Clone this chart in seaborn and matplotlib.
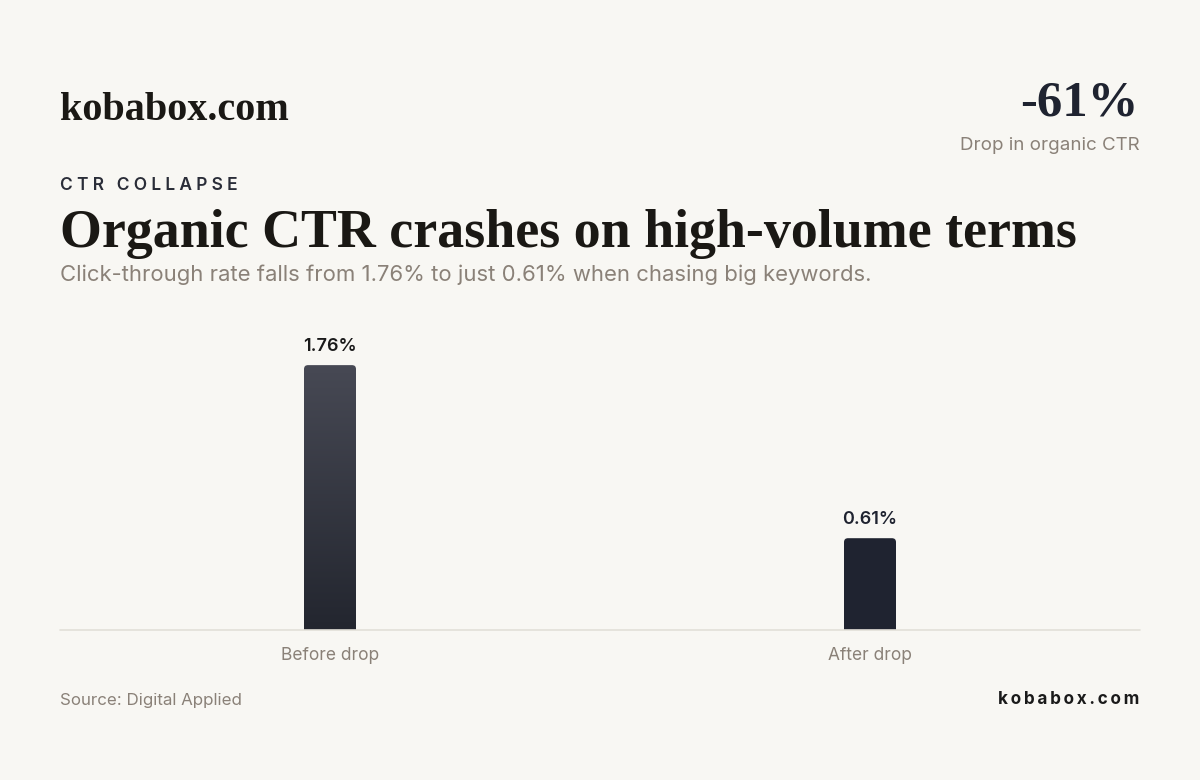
import numpy as np
import matplotlib
matplotlib.use("Agg")
import matplotlib.pyplot as plt
import seaborn as sns
from matplotlib.patches import FancyBboxPatch

# data
categories = ["Before drop", "After drop"]
values = [1.76, 0.61]
value_labels = ["1.76%", "0.61%"]
change_label = "-61%"

BG = "#f8f7f3"
INK = "#1f2330"
MUTED = "#8a8178"
SERIF = ["Liberation Serif", "DejaVu Serif"]
SANS = ["Inter", "DejaVu Sans"]

sns.set_theme(style="white")
plt.rcParams["font.family"] = SANS

fig = plt.figure(figsize=(12, 7.8), dpi=100, facecolor=BG)
W, H = 1200, 780

def fx(px):
    return px / W

def fy(py):
    return 1 - py / H

def spaced(s, gap="\u2009"):
    return gap.join(s).replace(gap + " " + gap, gap * 3)

# plot area: x 60..1140, y 329..630 px
ax = fig.add_axes([fx(60), fy(630), fx(1080), (630 - 329) / H])
ax.set_facecolor(BG)
sns.barplot(x=categories, y=values, ax=ax, width=0.0963, color=INK)
ax.set_xlim(-0.5, 1.5)
ax.set_ylim(0, 2.0)
for s in ax.spines.values():
    s.set_visible(False)
ax.set_yticks([])
ax.set_xticks([])
ax.axhline(0, color="#e2dfd8", lw=1.2, zorder=5, clip_on=False)

# aspect for rounded corners (data units per pixel)
xu = 2.0 / 1080
yu = 2.0 / 301
rad = 4 * xu
for i, p in enumerate(list(ax.patches)):
    x0, w, h = p.get_x(), p.get_width(), p.get_height()
    p.set_visible(False)
    box = FancyBboxPatch((x0, -0.1), w, h + 0.1,
                         boxstyle=f"round,pad=0,rounding_size={rad}",
                         mutation_aspect=yu / xu, facecolor=INK,
                         edgecolor="none", zorder=3)
    ax.add_patch(box)
    if i == 0:
        box.set_facecolor("none")
        grad = np.linspace(0, 1, 256).reshape(-1, 1)
        cmap = matplotlib.colors.LinearSegmentedColormap.from_list(
            "g", ["#23262f", "#474954"])
        im = ax.imshow(grad, extent=(x0, x0 + w, 0, h), origin="lower",
                       aspect="auto", cmap=cmap, zorder=3)
        im.set_clip_path(box)
    ax.text(x0 + w / 2, h + 0.07, value_labels[i], ha="center", va="bottom",
            fontsize=13, fontweight="semibold",
            color="#1a1a1a" if i == 0 else INK)
    ax.text(x0 + w / 2, -0.17, categories[i], ha="center", va="center",
            fontsize=12.5, color=MUTED)

# header
fig.text(fx(60), fy(111), "kobabox.com", family=SERIF, fontweight="bold",
         fontsize=29, color="#1a1814", ha="left", va="center")
fig.text(fx(1139), fy(103), change_label, family=SERIF, fontweight="bold",
         fontsize=36.5, color=INK, ha="right", va="center")
fig.text(fx(1140), fy(145), "Drop in organic CTR", fontsize=13.5,
         color=MUTED, ha="right", va="center")
fig.text(fx(60), fy(186), spaced("CTR COLLAPSE", "\u2009\u200a"),
         fontsize=12.5, fontweight="semibold", color="#2a2d38",
         ha="left", va="center")
fig.text(fx(60), fy(234), "Organic CTR crashes on high-volume terms",
         family=SERIF, fontweight="bold", fontsize=38.8, color="#1a1814",
         ha="left", va="center")
fig.text(fx(60), fy(275),
         "Click-through rate falls from 1.76% to just 0.61% when chasing big keywords.",
         fontsize=15.9, color=MUTED, ha="left", va="center")

# footer
fig.text(fx(60), fy(700), "Source: Digital Applied", fontsize=12.2,
         color=MUTED, ha="left", va="center")
fig.text(fx(1139), fy(700), spaced("kobabox.com", "\u200a\u200a"), fontsize=12.3,
         fontweight="bold", color="#1a1a1a", ha="right", va="center")

fig.savefig("out.png", dpi=100, facecolor=BG)
